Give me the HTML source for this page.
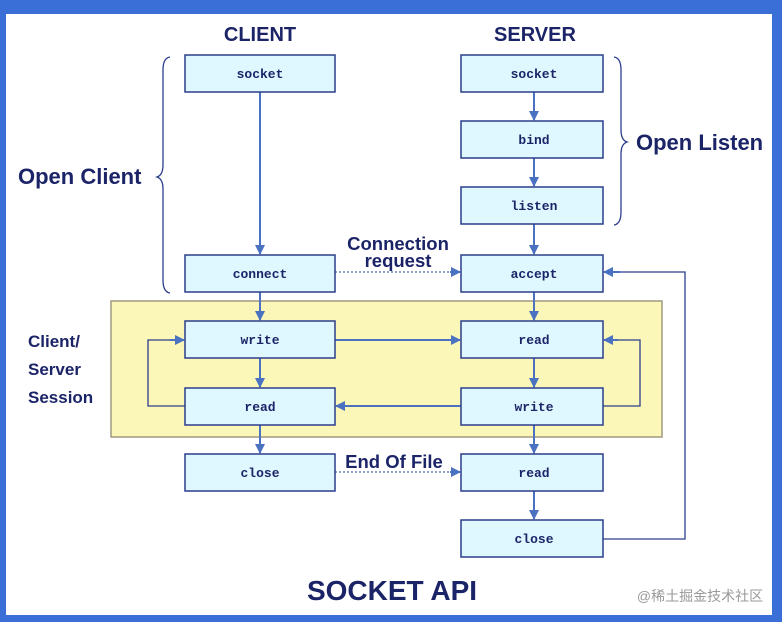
<!DOCTYPE html>
<html><head><meta charset="utf-8"><style>
body{margin:0;width:782px;height:622px;background:#3a6fd8;overflow:hidden}
svg{display:block}
.b{fill:#dff8ff;stroke:#2c3e8c;stroke-width:1.5}
.t{font-family:"Liberation Mono",monospace;font-weight:bold;font-size:13px;fill:#1c2468;text-anchor:middle}
.h{font-family:"Liberation Sans",sans-serif;font-weight:bold;fill:#1c2468}
.l{stroke:#4a72c0;stroke-width:2;fill:none}
.n{stroke:#2c3e8c;stroke-width:1.3;fill:none}
.d{stroke:#6a7fb0;stroke-width:1.5;stroke-dasharray:2,2;fill:none}
</style></head><body>
<svg width="782" height="622" xmlns="http://www.w3.org/2000/svg">
<defs><marker id="a" markerWidth="10" markerHeight="10" refX="9" refY="5" orient="auto" markerUnits="userSpaceOnUse"><path d="M0,0 L10,5 L0,10 z" fill="#4a72c0"/></marker></defs>
<rect x="6" y="14" width="766" height="601" fill="#fff"/>
<rect x="111" y="301" width="551" height="136" fill="#fbf7b8" stroke="#a09a80" stroke-width="1.5"/>
<text x="260" y="41" class="h" font-size="20" text-anchor="middle">CLIENT</text>
<text x="535" y="41" class="h" font-size="20" text-anchor="middle">SERVER</text>
<text x="392" y="600" class="h" font-size="28" text-anchor="middle">SOCKET API</text>
<text x="18" y="184" class="h" font-size="22">Open Client</text>
<text x="636" y="150" class="h" font-size="22">Open Listen</text>
<text x="28" y="347" class="h" font-size="17">Client/</text>
<text x="28" y="375" class="h" font-size="17">Server</text>
<text x="28" y="403" class="h" font-size="17">Session</text>
<text x="398" y="250" class="h" font-size="18.5" text-anchor="middle">Connection</text>
<text x="398" y="267" class="h" font-size="18.5" text-anchor="middle">request</text>
<text x="394" y="468" class="h" font-size="18.5" text-anchor="middle">End Of File</text>
<text x="700" y="601" font-family="'Liberation Sans','Noto Sans CJK SC',sans-serif" font-size="14" fill="#999" text-anchor="middle">@稀土掘金技术社区</text>
<path class="n" d="M170,57 Q163,58 163,70 L163,165 Q163,175 157,177 Q163,179 163,189 L163,280 Q163,292 170,293"/>
<path class="n" d="M614,57 Q621,58 621,70 L621,130 Q621,140 627,142 Q621,144 621,154 L621,212 Q621,224 614,225"/>
<line class="l" x1="260" y1="92" x2="260" y2="254" marker-end="url(#a)"/>
<line class="l" x1="260" y1="292" x2="260" y2="320" marker-end="url(#a)"/>
<line class="l" x1="260" y1="358" x2="260" y2="387" marker-end="url(#a)"/>
<line class="l" x1="260" y1="425" x2="260" y2="453" marker-end="url(#a)"/>
<line class="l" x1="534" y1="92" x2="534" y2="120" marker-end="url(#a)"/>
<line class="l" x1="534" y1="158" x2="534" y2="186" marker-end="url(#a)"/>
<line class="l" x1="534" y1="224" x2="534" y2="254" marker-end="url(#a)"/>
<line class="l" x1="534" y1="292" x2="534" y2="320" marker-end="url(#a)"/>
<line class="l" x1="534" y1="358" x2="534" y2="387" marker-end="url(#a)"/>
<line class="l" x1="534" y1="425" x2="534" y2="453" marker-end="url(#a)"/>
<line class="l" x1="534" y1="491" x2="534" y2="519" marker-end="url(#a)"/>
<line class="l" x1="335" y1="340" x2="460" y2="340" marker-end="url(#a)"/>
<line class="l" x1="461" y1="406" x2="336" y2="406" marker-end="url(#a)"/>
<path class="n" d="M185,406 L148,406 L148,340 L175,340"/><line class="l" x1="170" y1="340" x2="184" y2="340" marker-end="url(#a)"/>
<path class="n" d="M603,406 L640,406 L640,340 L612,340"/><line class="l" x1="618" y1="340" x2="604" y2="340" marker-end="url(#a)"/>
<path class="n" d="M603,539 L685,539 L685,272 L615,272"/><line class="l" x1="620" y1="272" x2="604" y2="272" marker-end="url(#a)"/>
<line class="d" x1="335" y1="272" x2="452" y2="272"/><line class="l" x1="450" y1="272" x2="460" y2="272" marker-end="url(#a)"/>
<line class="d" x1="335" y1="472" x2="452" y2="472"/><line class="l" x1="450" y1="472" x2="460" y2="472" marker-end="url(#a)"/>
<rect class="b" x="185" y="55" width="150" height="37"/><text class="t" x="260" y="78">socket</text>
<rect class="b" x="185" y="255" width="150" height="37"/><text class="t" x="260" y="278">connect</text>
<rect class="b" x="185" y="321" width="150" height="37"/><text class="t" x="260" y="344">write</text>
<rect class="b" x="185" y="388" width="150" height="37"/><text class="t" x="260" y="411">read</text>
<rect class="b" x="185" y="454" width="150" height="37"/><text class="t" x="260" y="477">close</text>
<rect class="b" x="461" y="55" width="142" height="37"/><text class="t" x="534" y="78">socket</text>
<rect class="b" x="461" y="121" width="142" height="37"/><text class="t" x="534" y="144">bind</text>
<rect class="b" x="461" y="187" width="142" height="37"/><text class="t" x="534" y="210">listen</text>
<rect class="b" x="461" y="255" width="142" height="37"/><text class="t" x="534" y="278">accept</text>
<rect class="b" x="461" y="321" width="142" height="37"/><text class="t" x="534" y="344">read</text>
<rect class="b" x="461" y="388" width="142" height="37"/><text class="t" x="534" y="411">write</text>
<rect class="b" x="461" y="454" width="142" height="37"/><text class="t" x="534" y="477">read</text>
<rect class="b" x="461" y="520" width="142" height="37"/><text class="t" x="534" y="543">close</text>
</svg>
</body></html>
